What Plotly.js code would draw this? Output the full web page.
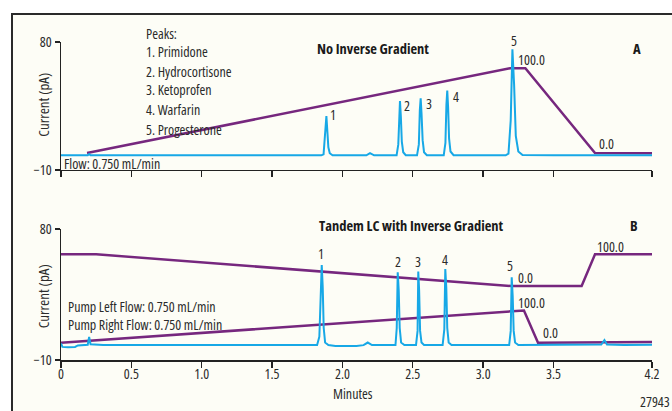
<!DOCTYPE html>
<html>
<head>
<meta charset="utf-8">
<script src="https://cdn.plot.ly/plotly-3.0.1.min.js"></script>
<style>
  html, body { margin:0; padding:0; background:#ffffff; width:672px; height:411px; overflow:hidden; }
  #frame { position:absolute; left:11px; top:13px; width:700px; height:420px; background:#fdfdf6; border-left:2px solid #2a2a2a; border-top:2px solid #2a2a2a; }
  #chart { position:absolute; left:0; top:0; width:672px; height:411px; }
  svg text { font-stretch: 75% !important; }
</style>
</head>
<body>
<div id="frame"></div>
<div id="chart"></div>
<script>
// ---- Panel A: No Inverse Gradient (detector trace) ----
const timeA = [0, 0.19, 0.2, 0.21, 0.6, 1.0, 1.4, 1.85, 1.866, 1.878, 1.886, 1.893, 1.9, 1.91, 1.93,
  2.17, 2.196, 2.225, 2.385, 2.397, 2.404, 2.409, 2.415, 2.422, 2.432, 2.45,
  2.53, 2.543, 2.55, 2.556, 2.562, 2.57, 2.58, 2.6,
  2.72, 2.732, 2.739, 2.745, 2.751, 2.758, 2.768, 2.79,
  3.16, 3.18, 3.196, 3.208, 3.22, 3.232, 3.25, 3.28, 3.5, 3.8, 4.0, 4.2];
const currentA = [0.3, 0.3, 1.2, 0.3, 0.3, 0.4, 0.3, 0.3, 1.0, 14, 28, 17, 6, 1.8, 0.4,
  0.3, 1.9, 0.3, 0.3, 8, 30, 38.5, 28, 10, 2.5, 0.4,
  0.3, 8, 32, 40.4, 30, 11, 2.5, 0.4,
  0.3, 9, 36, 45.8, 34, 12, 3, 0.4,
  0.3, 1.5, 25, 74.9, 50, 14, 3, 0.5, 0.3, 0.4, 0.3, 0.3];
// Gradient program A
const gradTimeA = [0.185, 3.19, 3.30, 3.795, 4.2];
const gradValA = [2.0, 61.5, 61.5, 2.0, 1.8];

// ---- Panel B: Tandem LC with Inverse Gradient (detector trace) ----
const timeB = [0, 0.01, 0.05, 0.1, 0.12, 0.19, 0.2, 0.21, 0.3, 0.8, 1.3, 1.82, 1.836, 1.846, 1.853, 1.86, 1.867, 1.877, 1.9,
  1.95, 2.1, 2.15, 2.18, 2.21, 2.377, 2.386, 2.393, 2.4, 2.407, 2.417, 2.44,
  2.523, 2.534, 2.539, 2.545, 2.552, 2.562, 2.58,
  2.712, 2.724, 2.731, 2.738, 2.745, 2.755, 2.775,
  3.185, 3.196, 3.203, 3.21, 3.217, 3.227, 3.25, 3.5, 3.84, 3.862, 3.88, 4.0, 4.2];
const currentB = [1.5, -1.0, -1.2, -1.0, 0.0, 0.5, 5.8, 0.8, 0.3, 0.4, 0.3, 0.3, 6, 38, 55.3, 40, 12, 2, 0.3,
  -0.3, -0.4, 0.2, 2.0, 0.3, 0.3, 12, 50.2, 38, 12, 2, 0.3,
  0.3, 10, 50.7, 38, 10, 2, 0.3,
  0.3, 11, 52.5, 40, 12, 2, 0.3,
  0.3, 10, 46.8, 34, 10, 2, 0.3, 0.3, 0.6, 3.7, 0.6, 0.3, 0.4];
// Gradient programs B (left and right pumps)
const gradTimeB1 = [0, 0.25, 3.20, 3.70, 3.795, 4.2];
const gradValB1 = [62.6, 62.6, 40.8, 40.8, 62.6, 62.6];
const gradTimeB2 = [0, 3.29, 3.39, 4.2];
const gradValB2 = [1.9, 24.0, 1.9, 2.4];

// ---- Axis ticks ----
const xTickVals = [0, 0.5, 1.0, 1.5, 2.0, 2.5, 3.0, 3.5, 4.2];
const xTickText = ['0', '0.5', '1.0', '1.5', '2.0', '2.5', '3.0', '3.5', '4.2'];
const yTickVals = [-10, 80];
const yTickText = ['\u221210', '80'];

// ---- Text labels ----
const peakList = ['Peaks:', '1. Primidone', '2. Hydrocortisone', '3. Ketoprofen', '4. Warfarin', '5. Progesterone'];
const peakListY = [86.3, 73.4, 59.6, 46.3, 32.2, 18.8];
const peakLabelsA = ['1', '2', '3', '4', '5'];
const peakLabelXA = [1.933, 2.459, 2.615, 2.805, 3.22];
const peakLabelYA = [28.7, 35.7, 37.1, 41.5, 81.4];
const peakLabelsB = ['1', '2', '3', '4', '5'];
const peakLabelXB = [1.848, 2.397, 2.539, 2.731, 3.193];
const peakLabelYB = [63.3, 57.5, 57.5, 59.2, 54.6];
const pumpFlows = ['Pump Left Flow: 0.750 mL/min', 'Pump Right Flow: 0.750 mL/min'];

const BLUE = '#17a8e6';
const PURPLE = '#76277e';
const TXT = '#2b2b2b';
const FONT = '"Open Sans", sans-serif';
const REG = {family: FONT, size: 14, color: TXT, weight: 500};
const BOLD = {family: FONT, size: 14.5, color: '#1a1a1a', weight: 750};
const YT = {family: FONT, size: 15, color: TXT, weight: 500};

const traces = [
  {x: gradTimeA, y: gradValA, xaxis: 'x', yaxis: 'y', mode: 'lines', line: {color: PURPLE, width: 2.5}, hoverinfo: 'skip'},
  {x: timeA, y: currentA, xaxis: 'x', yaxis: 'y', mode: 'lines', line: {color: BLUE, width: 2}, hoverinfo: 'skip'},
  {x: gradTimeB1, y: gradValB1, xaxis: 'x2', yaxis: 'y2', mode: 'lines', line: {color: PURPLE, width: 2.5}, hoverinfo: 'skip'},
  {x: gradTimeB2, y: gradValB2, xaxis: 'x2', yaxis: 'y2', mode: 'lines', line: {color: PURPLE, width: 2.5}, hoverinfo: 'skip'},
  {x: timeB, y: currentB, xaxis: 'x2', yaxis: 'y2', mode: 'lines', line: {color: BLUE, width: 2}, hoverinfo: 'skip'}
];

const ann = [];
function dom(v) { return (v + 10) / 90; }
function add(xref, yref, x, y, text, opts) {
  let yy = y, yr = yref;
  if (yref === 'y' || yref === 'y2') { yr = yref + ' domain'; yy = dom(y); }
  ann.push(Object.assign({xref: xref, yref: yr, x: x, y: yy, text: text, showarrow: false,
    xanchor: 'center', yanchor: 'middle', borderpad: 0, font: REG}, opts || {}));
}
peakList.forEach((t, i) => add('x', 'y', 0.597, peakListY[i], t, {xanchor: 'left'}));
peakLabelsA.forEach((t, i) => add('x', 'y', peakLabelXA[i], peakLabelYA[i], t));
peakLabelsB.forEach((t, i) => add('x2', 'y2', peakLabelXB[i], peakLabelYB[i], t));
add('x', 'y', 2.217, 75.1, 'No Inverse Gradient', {font: BOLD});
add('x', 'y', 4.093, 75.1, 'A', {font: BOLD});
add('x', 'y', 3.241, 67.8, '100.0', {xanchor: 'left'});
add('x', 'y', 3.816, 8.3, '0.0', {xanchor: 'left'});
add('x', 'y', 0.012, -5.1, 'Flow: 0.750 mL/min', {xanchor: 'left'});
add('x2', 'y2', 2.494, 82.7, 'Tandem LC with Inverse Gradient', {font: BOLD});
add('x2', 'y2', 4.072, 82.7, 'B', {font: BOLD});
add('x2', 'y2', 3.243, 46.8, '0.0', {xanchor: 'left'});
add('x2', 'y2', 3.80, 68.3, '100.0', {xanchor: 'left'});
add('x2', 'y2', 3.243, 29.6, '100.0', {xanchor: 'left'});
add('x2', 'y2', 3.416, 9.0, '0.0', {xanchor: 'left'});
add('x2', 'y2', 0.04, 20.9, pumpFlows.join('<br>'), {xanchor: 'left', align: 'left'});
add('paper', 'paper', -0.030, 0.8035, 'Current (pA)', {textangle: -90, font: YT});
add('paper', 'paper', -0.030, 0.201, 'Current (pA)', {textangle: -90, font: YT});
add('paper', 'paper', 0.494, -0.1038, 'Minutes');
add('paper', 'paper', 1.032, -0.131, '27943', {xanchor: 'right'});

const xCommon = {range: [0, 4.2], tickvals: xTickVals, ticktext: xTickText, ticks: 'outside', ticklen: 6, tickwidth: 1.3,
  tickcolor: '#222', showline: true, linecolor: '#222', linewidth: 1.5, showgrid: false, zeroline: false,
  tickfont: REG, ticklabelstandoff: -5, fixedrange: true};
const yCommon = {range: [-10, 80], tickvals: yTickVals, ticktext: yTickText, ticks: 'outside', ticklen: 5, tickwidth: 1.3,
  tickcolor: '#222', showline: true, linecolor: '#222', linewidth: 1.5, showgrid: false, zeroline: false,
  tickfont: REG, fixedrange: true};

const layout = {
  width: 672, height: 411,
  margin: {l: 61, r: 20, t: 42, b: 51},
  paper_bgcolor: 'rgba(0,0,0,0)', plot_bgcolor: 'rgba(0,0,0,0)',
  showlegend: false,
  xaxis: Object.assign({}, xCommon, {anchor: 'y', showticklabels: false}),
  yaxis: Object.assign({}, yCommon, {anchor: 'x', domain: [0.5975, 1]}),
  xaxis2: Object.assign({}, xCommon, {anchor: 'y2'}),
  yaxis2: Object.assign({}, yCommon, {anchor: 'x2', domain: [0, 0.412]}),
  annotations: ann
};

Plotly.newPlot('chart', traces, layout, {displayModeBar: false, staticPlot: true});
</script>
</body>
</html>
